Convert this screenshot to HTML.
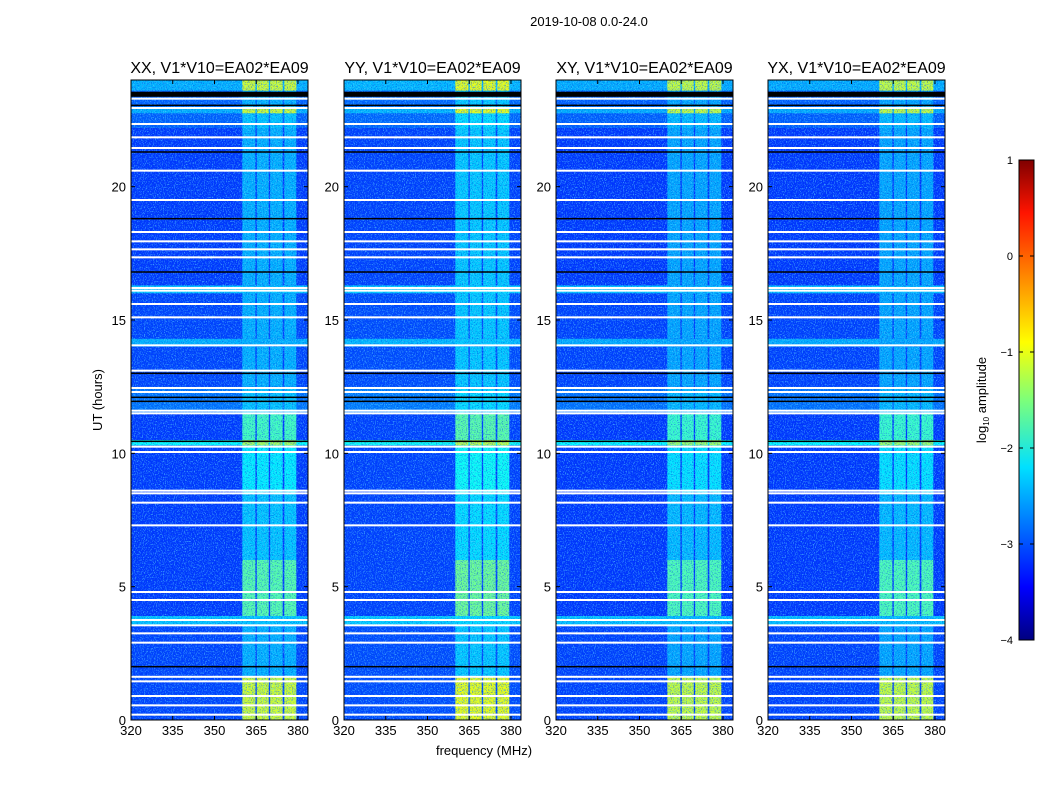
<!DOCTYPE html>
<html><head><meta charset="utf-8">
<style>
body{margin:0;background:#fff;font-family:"Liberation Sans","DejaVu Sans",sans-serif;}
svg text{font-family:"Liberation Sans","DejaVu Sans",sans-serif;}
</style></head>
<body>
<svg id="chart" width="1050" height="800" xmlns="http://www.w3.org/2000/svg">
<defs>
<filter id="speck" x="0" y="0" width="100%" height="100%">
<feTurbulence type="fractalNoise" baseFrequency="0.9 0.7" numOctaves="2" seed="3"/>
<feColorMatrix type="matrix" values="0 0 0 0 0.1  0 0 0 0 0.65  0 0 0 0 1  5 0 0 0 -2.55"/>
</filter>
<filter id="speck2" x="0" y="0" width="100%" height="100%">
<feTurbulence type="fractalNoise" baseFrequency="0.8 0.9" numOctaves="2" seed="11"/>
<feColorMatrix type="matrix" values="0 0 0 0 0  0 0 0 0 0.05  0 0 0 0 0.75  0 5 0 0 -2.6"/>
</filter>
<linearGradient id="jet" x1="0" y1="1" x2="0" y2="0">
<stop offset="0" stop-color="#000080"/><stop offset="0.11" stop-color="#0000ff"/>
<stop offset="0.36" stop-color="#00e0ff"/><stop offset="0.5" stop-color="#7dff7a"/>
<stop offset="0.62" stop-color="#ffff00"/><stop offset="0.89" stop-color="#ff1400"/>
<stop offset="1" stop-color="#800000"/></linearGradient>
</defs>
<text x="589" y="26" font-size="13" text-anchor="middle">2019-10-08 0.0-24.0</text>
<text x="484" y="755" font-size="13" text-anchor="middle">frequency (MHz)</text>
<text transform="translate(102,400) rotate(-90)" font-size="13" text-anchor="middle">UT (hours)</text>
<g id="panels"></g>
<g>
<rect x="1019" y="160" width="15" height="480" fill="url(#jet)" stroke="#000" stroke-width="1"/>
<g id="cbticks"></g>
<text transform="translate(986,400) rotate(-90)" font-size="13" text-anchor="middle">log<tspan font-size="8" dy="3">10</tspan><tspan dy="-3"> amplitude</tspan></text>
</g>
</svg>
<script>
const panelTitles=["XX, V1*V10=EA02*EA09","YY, V1*V10=EA02*EA09","XY, V1*V10=EA02*EA09","YX, V1*V10=EA02*EA09"];
const panelGain=[0,0.12,-0.05,-0.05];
const xTicks=[320,335,350,365,380];
const yTicks=[0,5,10,15,20];
const cbTicks=[1,0,-1,-2,-3,-4];
// bright sub-bands (MHz)
const bandLo=[360.0,365.2,370.0,375.1];
const bandHi=[364.7,369.5,374.5,379.4];
// time segments: start hour, end hour, background log amp, band log amp
const segStart=[0,1.65,3.55,3.9,6.0,8.5,10.3,10.5,11.5,12.5,14.0,14.3,16.0,16.3,22.2,22.75,23.0,23.6];
const segEnd=[1.65,3.55,3.9,6.0,8.5,10.3,10.5,11.5,12.5,14.0,14.3,16.0,16.3,22.2,22.75,23.0,23.6,24];
const segBg=[-3.05,-3.05,-2.4,-3.1,-3.1,-3.1,-2.1,-3.1,-2.8,-3.05,-2.5,-3.05,-2.4,-3.1,-2.9,-2.5,-2.9,-2.5];
const segBand=[-1.1,-2.5,-2.4,-1.7,-2.4,-2.2,-1.3,-1.8,-2.4,-2.5,-2.5,-2.5,-2.4,-2.5,-2.4,-1.1,-2.5,-1.1];
// flagged (white) rows and black gaps, hours
const flagged=[0.2,0.55,0.9,1.45,1.62,2.9,3.25,3.55,3.75,4.5,4.8,7.3,8.15,8.5,8.6,10.05,10.25,11.5,11.6,12.3,12.45,13.1,14.05,15.1,15.6,16.1,16.2,17.35,17.65,17.95,18.3,19.5,20.6,21.45,21.85,22.35,22.95,23.3];
const blackRows=[2.0,10.45,11.95,12.1,13.0,16.8,18.8,21.3,23.05];
const blackBlockStart=[23.37];
const blackBlockEnd=[23.56];

const NS="http://www.w3.org/2000/svg";
function mk(tag,attrs,parent){const e=document.createElementNS(NS,tag);for(const k in attrs)e.setAttribute(k,attrs[k]);parent.appendChild(e);return e;}
function jet(v){let t=(v+4)/5;t=Math.max(0,Math.min(1,t));
 const r=Math.max(0,Math.min(1,1.5-Math.abs(4*t-3))),g=Math.max(0,Math.min(1,1.5-Math.abs(4*t-2))),b=Math.max(0,Math.min(1,1.5-Math.abs(4*t-1)));
 return `rgb(${Math.round(r*255)},${Math.round(g*255)},${Math.round(b*255)})`;}
const lefts=[131,344,556,768],PW=177,TOP=80,BOT=720;
const F0=320,F1=383.6,T1=24;
const root=document.getElementById('panels');
lefts.forEach((L,pi)=>{
 const xs=f=>L+(f-F0)/(F1-F0)*PW, ys=h=>BOT-h/T1*(BOT-TOP);
 const g=mk('g',{},root);
 
 
 const cells=mk('g',{},g);
 mk('rect',{x:L,y:TOP,width:PW,height:BOT-TOP,fill:jet(-3.1)},cells);
 for(let s=0;s<segStart.length;s++){
  const y0=ys(segEnd[s]),y1=ys(segStart[s]);
  const bg=mk('rect',{x:L,y:y0,width:PW,height:y1-y0,fill:jet(segBg[s]+panelGain[pi]*0.3)},cells);
  
  
  for(let b=0;b<bandLo.length;b++){
   const r=mk('rect',{x:xs(bandLo[b]),y:y0,width:xs(bandHi[b])-xs(bandLo[b]),height:y1-y0,fill:jet(segBand[s]+panelGain[pi])},cells);
   
   
  }
 }
 mk('rect',{x:L,y:TOP,width:PW,height:BOT-TOP,filter:'url(#speck)',opacity:0.6},g);
 mk('rect',{x:L,y:TOP,width:PW,height:BOT-TOP,filter:'url(#speck2)',opacity:0.5},g);
 flagged.forEach(h=>{const r=mk('rect',{x:L,y:ys(h)-1,width:PW,height:2,fill:'#fff'},g);
  });
 blackRows.forEach(h=>{const r=mk('rect',{x:L,y:ys(h)-0.75,width:PW,height:1.5,fill:'#000'},g);
  });
 blackBlockStart.forEach((h,i)=>{const r=mk('rect',{x:L,y:ys(blackBlockEnd[i]),width:PW,height:ys(h)-ys(blackBlockEnd[i]),fill:'#000'},g);
  });
 mk('rect',{x:L,y:TOP,width:PW,height:BOT-TOP,fill:'none',stroke:'#000','stroke-width':1},g);
 const t=mk('text',{x:L+PW/2,y:TOP-7,'font-size':16,'text-anchor':'middle'},g);t.textContent=panelTitles[pi];
 
 xTicks.forEach(f=>{const x=xs(f);mk('line',{x1:x,x2:x,y1:BOT,y2:BOT-4,stroke:'#000'},g);mk('line',{x1:x,x2:x,y1:TOP,y2:TOP+4,stroke:'#000'},g);
  const tl=mk('text',{x:x,y:BOT+15,'font-size':13,'text-anchor':'middle'},g);tl.textContent=f;
  });
 yTicks.forEach(h=>{const y=ys(h);mk('line',{x1:L,x2:L+4,y1:y,y2:y,stroke:'#000'},g);mk('line',{x1:L+PW,x2:L+PW-4,y1:y,y2:y,stroke:'#000'},g);
  const tl=mk('text',{x:L-5,y:y+5,'font-size':13,'text-anchor':'end'},g);tl.textContent=h;
  });
});
const cb=document.getElementById('cbticks');
cbTicks.forEach(v=>{const y=160+(1-v)/5*480;
 mk('line',{x1:1019,x2:1023,y1:y,y2:y,stroke:'#000'},cb);mk('line',{x1:1034,x2:1030,y1:y,y2:y,stroke:'#000'},cb);
 const t=mk('text',{x:1013,y:y+4,'font-size':11,'text-anchor':'end'},cb);t.textContent=v<0?'\u2212'+(-v):v;
 });
</script>
</body></html>
